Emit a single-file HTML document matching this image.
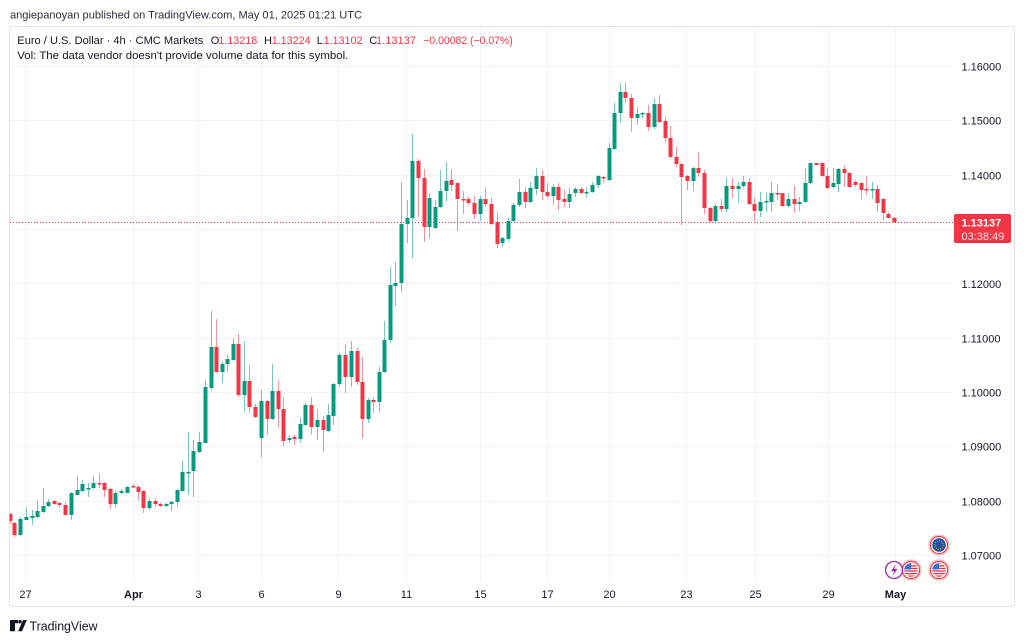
<!DOCTYPE html>
<html><head><meta charset="utf-8"><style>
html,body{margin:0;padding:0;background:#fff;}
svg{display:block;font-family:"Liberation Sans",Arial,sans-serif;}
</style></head><body>
<svg width="1024" height="641" viewBox="0 0 1024 641" xmlns="http://www.w3.org/2000/svg">
<rect width="1024" height="641" fill="#fff"/>
<!-- header -->
<text x="10" y="18.5" font-size="11" fill="#2a2e39" textLength="352" lengthAdjust="spacingAndGlyphs">angiepanoyan published on TradingView.com, May 01, 2025 01:21 UTC</text>
<!-- frame -->
<rect x="9.5" y="26.5" width="1005" height="580" rx="3" fill="none" stroke="#e0e3eb"/>
<!-- horizontal grid -->
<g stroke="#f0f3fa" stroke-width="1">
<path d="M10 66.5H953M10 120.5H953M10 175.5H953M10 229.5H953M10 283.5H953M10 338.5H953M10 392.5H953M10 446.5H953M10 501.5H953M10 555.5H953"/>
<path d="M25.5 27V582M133.5 27V582M198.5 27V582M261.5 27V582M338.5 27V582M406.5 27V582M480.5 27V582M547.5 27V582M609.5 27V582M686.5 27V582M755.5 27V582M828.5 27V582M895.5 27V582"/>
</g>
<!-- legend -->
<g font-size="11">
<text x="17.3" y="44" fill="#131722" textLength="186" lengthAdjust="spacingAndGlyphs">Euro / U.S. Dollar · 4h · CMC Markets</text>
<text x="210.7" y="44" fill="#131722">O</text><text x="218.3" y="44" fill="#f23645" textLength="39" lengthAdjust="spacingAndGlyphs">1.13218</text>
<text x="264" y="44" fill="#131722">H</text><text x="271.7" y="44" fill="#f23645" textLength="39" lengthAdjust="spacingAndGlyphs">1.13224</text>
<text x="316.7" y="44" fill="#131722">L</text><text x="323.5" y="44" fill="#f23645" textLength="39" lengthAdjust="spacingAndGlyphs">1.13102</text>
<text x="369.3" y="44" fill="#131722">C</text><text x="376" y="44" fill="#f23645" textLength="40" lengthAdjust="spacingAndGlyphs">1.13137</text>
<text x="423.3" y="44" fill="#f23645" textLength="89.4" lengthAdjust="spacingAndGlyphs">−0.00082 (−0.07%)</text>
<text x="17.3" y="59" fill="#131722" textLength="331" lengthAdjust="spacingAndGlyphs">Vol: The data vendor doesn't provide volume data for this symbol.</text>
</g>
<!-- price axis labels -->
<g font-size="11" fill="#131722">
<text x="961.5" y="70.5">1.16000</text>
<text x="961.5" y="124.5">1.15000</text>
<text x="961.5" y="179.5">1.14000</text>
<text x="961.5" y="288">1.12000</text>
<text x="961.5" y="342.5">1.11000</text>
<text x="961.5" y="396.5">1.10000</text>
<text x="961.5" y="450.5">1.09000</text>
<text x="961.5" y="505.5">1.08000</text>
<text x="961.5" y="559.5">1.07000</text>
</g>
<!-- date labels -->
<g font-size="11" fill="#131722" text-anchor="middle">
<text x="25.5" y="598">27</text>
<text x="133.5" y="598" font-weight="bold">Apr</text>
<text x="198.5" y="598">3</text>
<text x="261.5" y="598">6</text>
<text x="338.5" y="598">9</text>
<text x="406.5" y="598">11</text>
<text x="480.5" y="598">15</text>
<text x="547.5" y="598">17</text>
<text x="609.5" y="598">20</text>
<text x="686.5" y="598">23</text>
<text x="755.5" y="598">25</text>
<text x="828.5" y="598">29</text>
<text x="895.5" y="598" font-weight="bold">May</text>
</g>
<!-- current price line -->
<path d="M10 222.5H953" stroke="#f23645" stroke-width="1" stroke-dasharray="1 2"/>
<!-- up candles -->
<path fill="none" stroke="#089981" stroke-opacity="0.55" stroke-width="1" d="M20.5 517V536M26.5 507V520M32.5 510V525M37.5 500V518M43.5 488V513M48.5 499V507M71.5 492V520M77.5 476V495M82.5 480V492M88.5 483V497M93.5 476V489M115.5 490V508M121.5 489V494M127.5 486V493M149.5 498V510M166.5 503V507M171.5 501V511M177.5 489V507M182.5 461V492M188.5 432V495M193.5 440V497M199.5 432V453M205.5 380V443M211.5 311V390M222.5 362V383M227.5 355V372M233.5 338V361M244.5 341V412M261.5 390V457M272.5 364V420M289.5 435V443M300.5 418V443M305.5 403V426M317.5 409V440M328.5 404V432M333.5 383V425M339.5 353V387M351.5 341V387M368.5 398V423M379.5 367V412M384.5 321V373M390.5 267V343M395.5 262V306M401.5 182V292M407.5 200V243M412.5 134V258M429.5 193V238M435.5 200V229M440.5 170V208M446.5 162V201M480.5 196V221M502.5 237V247M508.5 218V241M513.5 203V222M519.5 179V207M530.5 182V203M536.5 168V195M553.5 184V205M569.5 188V208M575.5 187V197M586.5 187V198M592.5 182V193M598.5 175V188M609.5 143V181M614.5 103V150M620.5 83V122M637.5 107V125M642.5 112V118M654.5 98V129M693.5 167V191M715.5 204V223M726.5 178V212M738.5 182V203M743.5 176V188M760.5 192V217M766.5 193V212M771.5 182V212M788.5 193V207M799.5 197V211M805.5 168V203M810.5 163V184M833.5 168V189M838.5 168V192M872.5 182V199"/>
<path fill="#089981" d="M18.5 519h4v16h-4zM24.5 517h4v3h-4zM30.5 516h4v2h-4zM35.5 511h4v6h-4zM41.5 506h4v6h-4zM46.5 502h4v4h-4zM69.5 493h4v22h-4zM75.5 490h4v5h-4zM80.5 484h4v7h-4zM86.5 488h4v1.5h-4zM91.5 483h4v5h-4zM113.5 493h4v11h-4zM119.5 491h4v2h-4zM125.5 487h4v6h-4zM147.5 501h4v7h-4zM164.5 504h4v2h-4zM169.5 502h4v2h-4zM175.5 490h4v12h-4zM180.5 472h4v19h-4zM186.5 472h4v1.5h-4zM191.5 451h4v20h-4zM197.5 442h4v10h-4zM203.5 387h4v56h-4zM209.5 347h4v41h-4zM220.5 364h4v8h-4zM225.5 359h4v5h-4zM231.5 344h4v16h-4zM242.5 381h4v14h-4zM259.5 401h4v37h-4zM270.5 391h4v28h-4zM287.5 438h4v2h-4zM298.5 424h4v15h-4zM303.5 405h4v20h-4zM315.5 420h4v7h-4zM326.5 415h4v16h-4zM331.5 384h4v32h-4zM337.5 355h4v29h-4zM349.5 351h4v26h-4zM366.5 400h4v19h-4zM377.5 372h4v30h-4zM382.5 340h4v32h-4zM388.5 285h4v55h-4zM393.5 283h4v3h-4zM399.5 224h4v59h-4zM405.5 218h4v6h-4zM410.5 161h4v57h-4zM427.5 198h4v29h-4zM433.5 207h4v21h-4zM438.5 191h4v16h-4zM444.5 181h4v10h-4zM478.5 199h4v15h-4zM500.5 238h4v5h-4zM506.5 221h4v18h-4zM511.5 205h4v16h-4zM517.5 192h4v13h-4zM528.5 188h4v14h-4zM534.5 176h4v13h-4zM551.5 187h4v9h-4zM567.5 194h4v8h-4zM573.5 189h4v4h-4zM584.5 192h4v1.5h-4zM590.5 185h4v7h-4zM596.5 176h4v9h-4zM607.5 148h4v32h-4zM612.5 113h4v36h-4zM618.5 92h4v21h-4zM635.5 114h4v4h-4zM640.5 113h4v1.5h-4zM652.5 104h4v23h-4zM691.5 168h4v13h-4zM713.5 206h4v15h-4zM724.5 186h4v23h-4zM736.5 186h4v3h-4zM741.5 182h4v4h-4zM758.5 202h4v9h-4zM764.5 201h4v1.5h-4zM769.5 193h4v9h-4zM786.5 199h4v7h-4zM797.5 202h4v2h-4zM803.5 183h4v19h-4zM808.5 163h4v20h-4zM831.5 183h4v4h-4zM836.5 169h4v15h-4zM870.5 189h4v1.5h-4z"/>
<!-- down candles -->
<path fill="none" stroke="#f23645" stroke-opacity="0.55" stroke-width="1" d="M10.5 513V524M14.5 522V537M54.5 500V505M59.5 502V508M65.5 502V516M99.5 473V488M104.5 482V497M110.5 488V509M133.5 484V488M138.5 485V501M143.5 490V513M155.5 498V507M160.5 503V507M216.5 319V373M238.5 334V397M249.5 365V413M255.5 404V418M267.5 400V435M278.5 380V427M283.5 397V446M294.5 435V445M311.5 397V435M323.5 416V452M345.5 344V393M357.5 348V385M362.5 357V438M373.5 397V413M418.5 159V217M424.5 169V242M451.5 169V191M457.5 182V231M463.5 191V214M468.5 197V205M474.5 196V219M485.5 187V207M491.5 198V225M497.5 212V248M525.5 187V208M542.5 170V200M547.5 183V198M558.5 183V210M564.5 190V207M581.5 187V194M603.5 176V182M625.5 82V103M631.5 94V132M648.5 105V131M659.5 95V123M665.5 117V142M670.5 126V158M676.5 147V167M681.5 163V225M687.5 175V190M698.5 153V177M704.5 170V214M710.5 207V223M721.5 199V212M732.5 178V198M749.5 178V205M754.5 197V221M777.5 184V200M782.5 193V207M794.5 186V213M816.5 163V165M822.5 163V177M827.5 168V189M844.5 165V187M849.5 172V188M855.5 180V187M861.5 182V199M866.5 176V195M877.5 185V212M883.5 198V220M888.5 212V218M894.5 217V223"/>
<path fill="#f23645" d="M9.5 514h3v7h-3zM12.5 523h4v12h-4zM52.5 501h4v3h-4zM57.5 503h4v2h-4zM63.5 505h4v10h-4zM97.5 483h4v1.5h-4zM102.5 483h4v7h-4zM108.5 489h4v15h-4zM131.5 486h4v1.5h-4zM136.5 487h4v5h-4zM141.5 491h4v17h-4zM153.5 501h4v3h-4zM158.5 504h4v2h-4zM214.5 347h4v25h-4zM236.5 344h4v51h-4zM247.5 381h4v26h-4zM253.5 407h4v10h-4zM265.5 401h4v18h-4zM276.5 391h4v18h-4zM281.5 409h4v32h-4zM292.5 437h4v2h-4zM309.5 405h4v22h-4zM321.5 420h4v10h-4zM343.5 355h4v22h-4zM355.5 351h4v31h-4zM360.5 382h4v37h-4zM371.5 400h4v2h-4zM416.5 161h4v17h-4zM422.5 178h4v49h-4zM449.5 180h4v5h-4zM455.5 183h4v16h-4zM461.5 199h4v1.5h-4zM466.5 199h4v4h-4zM472.5 203h4v11h-4zM483.5 199h4v5h-4zM489.5 204h4v20h-4zM495.5 222h4v22h-4zM523.5 192h4v10h-4zM540.5 176h4v16h-4zM545.5 192h4v4h-4zM556.5 187h4v13h-4zM562.5 199h4v3h-4zM579.5 189h4v4h-4zM601.5 177h4v1.5h-4zM623.5 92h4v6h-4zM629.5 98h4v20h-4zM646.5 113h4v14h-4zM657.5 104h4v18h-4zM663.5 121h4v17h-4zM668.5 138h4v19h-4zM674.5 157h4v7h-4zM679.5 164h4v13h-4zM685.5 176h4v5h-4zM696.5 168h4v5h-4zM702.5 173h4v35h-4zM708.5 208h4v13h-4zM719.5 206h4v3h-4zM730.5 186h4v3h-4zM747.5 182h4v22h-4zM752.5 204h4v7h-4zM775.5 193h4v1.5h-4zM780.5 193h4v13h-4zM792.5 199h4v5h-4zM814.5 163h4v2h-4zM820.5 163h4v13h-4zM825.5 176h4v12h-4zM842.5 169h4v4h-4zM847.5 173h4v14h-4zM853.5 182h4v3h-4zM859.5 183h4v7h-4zM864.5 189h4v1.5h-4zM875.5 189h4v14h-4zM881.5 199h4v14h-4zM886.5 214h4v4h-4zM892.5 218h4v4h-4z"/>
<!-- price tag -->
<rect x="954" y="214" width="57" height="29" rx="2" fill="#f23645"/>
<text x="961.5" y="226.5" font-size="11" fill="#fff" font-weight="bold">1.13137</text>
<text x="961.5" y="240" font-size="11" fill="#fff" fill-opacity="0.85">03:38:49</text>
<!-- event icons -->
<defs>
<clipPath id="c1"><circle cx="939" cy="545" r="6.8"/></clipPath>
<clipPath id="c2"><circle cx="911" cy="570" r="6.8"/></clipPath>
<clipPath id="c3"><circle cx="939" cy="570" r="6.8"/></clipPath>
</defs>
<circle cx="939" cy="545" r="10" fill="#fff" stroke="#f9b9bd" stroke-width="1.2"/>
<circle cx="939" cy="545" r="8.6" fill="#fff" stroke="#f23645" stroke-width="1.1"/>
<circle cx="939" cy="545" r="6.8" fill="#1f4fa0"/>
<circle cx="939" cy="545" r="4.2" fill="none" stroke="#f2d21b" stroke-width="1.1" stroke-dasharray="0.8 1.4"/>

<circle cx="911" cy="570" r="10" fill="#fff" stroke="#f9b9bd" stroke-width="1.2"/>
<circle cx="911" cy="570" r="8.6" fill="#fff" stroke="#f23645" stroke-width="1.1"/>
<g clip-path="url(#c2)">
<rect x="903" y="562" width="16" height="16" fill="#fff"/>
<path d="M903 563.2h16M903 565.8h16M903 568.4h16M903 571h16M903 573.6h16M903 576.2h16" stroke="#e0313c" stroke-width="1.3"/>
<rect x="903" y="562" width="8" height="7.5" fill="#3d6fd0"/>
</g>
<circle cx="939" cy="570" r="10" fill="#fff" stroke="#f9b9bd" stroke-width="1.2"/>
<circle cx="939" cy="570" r="8.6" fill="#fff" stroke="#f23645" stroke-width="1.1"/>
<g clip-path="url(#c3)">
<rect x="931" y="562" width="16" height="16" fill="#fff"/>
<path d="M931 563.2h16M931 565.8h16M931 568.4h16M931 571h16M931 573.6h16M931 576.2h16" stroke="#e0313c" stroke-width="1.3"/>
<rect x="931" y="562" width="8" height="7.5" fill="#3d6fd0"/>
</g>
<circle cx="894" cy="570" r="8.5" fill="#fff" stroke="#9c27b0" stroke-width="1.3"/>
<path d="M896 564L891 571.2h3.2l-1.6 4.8 4.8-7h-3.2z" fill="#9c27b0"/>
<!-- TradingView logo -->
<g fill="#131722">
<path d="M10 620h8v3.2h-3v8h-5z"/>
<circle cx="20" cy="621.7" r="1.7"/>
<path d="M23 620h3.8l-4.8 11.2h-3.8z"/>
</g>
<text x="29.5" y="630.5" font-size="12.5" fill="#131722" textLength="68" lengthAdjust="spacingAndGlyphs">TradingView</text>
</svg>
</body></html>
